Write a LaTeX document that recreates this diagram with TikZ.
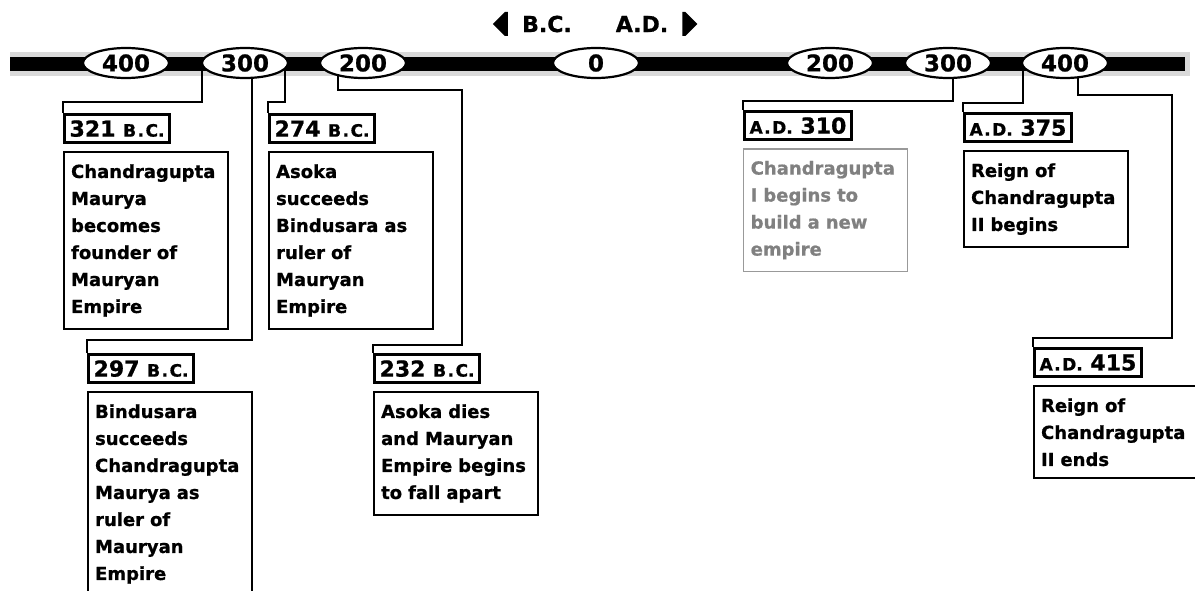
\documentclass[tikz,border=0pt]{standalone}
\usepackage{fontspec}
\setmainfont{DejaVu Sans}[BoldFeatures={FakeBold=0.8}]
\usetikzlibrary{shapes.geometric,positioning}

\newcommand{\smBC}{{\fontsize{17}{17}\selectfont B\kern1.5pt.\kern1.5pt C.}}
\newcommand{\smAD}{{\fontsize{17}{17}\selectfont A\kern1.5pt.\kern1.5pt D.}}

\begin{document}
\begin{tikzpicture}[x=1pt,y=-1pt,
    year/.style={ellipse,draw,line width=2.2pt,fill=white,minimum width=86pt,
      minimum height=30pt,inner sep=0pt,font=\bfseries\fontsize{23}{23}\selectfont},
    hdr/.style={inner sep=0pt,font=\bfseries\fontsize{22}{22}\selectfont},
    datebox/.style={draw,line width=3.2pt,fill=white,inner xsep=5pt,inner ysep=0pt,
      minimum height=28pt,anchor=north west,font=\bfseries\fontsize{22}{22}\selectfont},
    textbox/.style={draw,line width=2.2pt,text width=150pt,inner xsep=7pt,inner ysep=12pt,
      align=left,font=\bfseries\fontsize{18}{27}\selectfont,below right=7pt and 0pt of #1},
    conn/.style={line width=2.4pt}]
  \useasboundingbox (0,0) rectangle (1195,591);

  % time bar
  \fill[black!15] (10,52) rectangle (1190,76);
  \fill (10,57) rectangle (1185,71);

  \coordinate (tap321) at (202,63);
  \coordinate (tap297) at (252,63);
  \coordinate (tap274) at (285,63);
  \coordinate (tap232) at (338,63);
  \coordinate (tap310) at (953,63);
  \coordinate (tap375) at (1023,63);
  \coordinate (tap415) at (1078,63);

  \node[hdr] (bc) at (547,24) {B.C.};
  \node[hdr] (ad) at (642,24) {A.D.};
  \fill (bc.west) ++(-29,0) -- ++(12,-12) -- ++(3,0) -- ++(0,24) -- ++(-3,0) -- cycle;
  \fill (ad.east) ++(29,0) -- ++(-12,-12) -- ++(-3,0) -- ++(0,24) -- ++(3,0) -- cycle;

  \node[datebox] (l321) at (63,113) {321 \smBC};
  \node[datebox] (l274) at (268,113) {274 \smBC};
  \node[datebox] (l297) at (87,353) {297 \smBC};
  \node[datebox] (l232) at (373,353) {232 \smBC};
  \node[datebox] (l310) at (743,110) {\smAD\ 310};
  \node[datebox] (l375) at (963,112) {\smAD\ 375};
  \node[datebox] (l415) at (1033,347) {\smAD\ 415};

  \draw[conn] (tap321) -- ++(0,39) -| (l321.north west);
  \draw[conn] (tap297) -- ++(0,277) -| (l297.north west);
  \draw[conn] (tap274) -- ++(0,39) -| (l274.north west);
  \draw[conn] (tap232) -- ++(0,27) -- ++(124,0) -- ++(0,255) -| (l232.north west);
  \draw[conn] (tap310) -- ++(0,38) -| (l310.north west);
  \draw[conn] (tap375) -- ++(0,40) -| (l375.north west);
  \draw[conn] (tap415) -- ++(0,32) -- ++(94,0) -- ++(0,243) -| (l415.north west);

  \node[year] (b400) at (126,63) {400};
  \node[year] (b300) at (245,63) {300};
  \node[year] (b200) at (363,63) {200};
  \node[year] (zero) at (596,63) {0};
  \node[year] (a200) at (830,63) {200};
  \node[year] (a300) at (948,63) {300};
  \node[year] (a400) at (1065,63) {400};

  \node[textbox=l321.south west] (d321) {Chandragupta\\Maurya\\becomes\\founder of\\Mauryan\\Empire};
  \node[textbox=l274.south west] (d274) {Asoka\\succeeds\\Bindusara as\\ruler of\\Mauryan\\Empire};
  \node[textbox=l297.south west] (d297) {Bindusara\\succeeds\\Chandragupta\\Maurya as\\ruler of\\Mauryan\\Empire};
  \node[textbox=l232.south west] (d232) {Asoka dies\\and Mauryan\\Empire begins\\to fall apart};
  \node[textbox=l310.south west,draw=black!40,text=black!50,line width=1.4pt] (d310) {Chandragupta\\I begins to\\build a new\\empire};
  \node[textbox=l375.south west] (d375) {Reign of\\Chandragupta\\II begins};
  \node[textbox=l415.south west] (d415) {Reign of\\Chandragupta\\II ends};
\end{tikzpicture}
\end{document}
